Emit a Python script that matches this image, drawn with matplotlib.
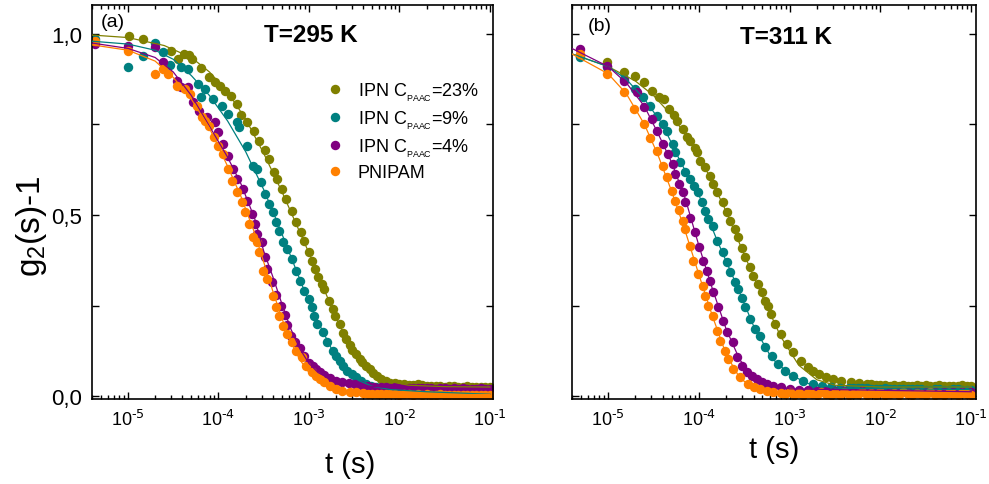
import numpy as np
import matplotlib
matplotlib.use("Agg")
import matplotlib.pyplot as plt
from matplotlib.ticker import LogLocator, MultipleLocator, FuncFormatter, NullFormatter

plt.rcParams['font.family'] = ['Liberation Sans', 'DejaVu Sans']
plt.rcParams['mathtext.default'] = 'regular'

# colours of the four samples
c23 = '#808000'
c9 = '#008080'
c4 = '#800080'
cpn = '#ff8000'
labels = [r'IPN C$_{{}_{PAAC}}$=23%', r'IPN C$_{{}_{PAAC}}$=9%', r'IPN C$_{{}_{PAAC}}$=4%', 'PNIPAM']

# ---------------- panel (a), T=295 K : log10(t) and g2-1 -----------------
lt_a_23 = [-4.99, -4.83, -4.52, -4.45, -4.38, -4.33, -4.29, -4.19, -4.10, -4.04, -3.98, -3.93, -3.86, -3.80,
           -3.75, -3.69, -3.61, -3.55, -3.49, -3.44, -3.39, -3.35, -3.30, -3.25, -3.19, -3.14, -3.09, -3.05,
           -3.00, -2.97, -2.93, -2.90, -2.86, -2.83, -2.78, -2.74, -2.71, -2.66, -2.62, -2.59, -2.55, -2.52,
           -2.48, -2.44, -2.41, -2.37, -2.33, -2.29, -2.25, -2.20, -2.15, -2.10, -2.05, -2.00, -1.95, -1.90,
           -1.85, -1.80, -1.75, -1.70, -1.65, -1.60, -1.55, -1.50, -1.45, -1.40, -1.35, -1.30, -1.25, -1.20,
           -1.15, -1.10, -1.05, -1.00]
g_a_23 = [0.994, 0.986, 0.953, 0.931, 0.945, 0.942, 0.931, 0.905, 0.881, 0.868, 0.855, 0.843, 0.829, 0.807,
          0.776, 0.757, 0.732, 0.704, 0.680, 0.655, 0.620, 0.599, 0.572, 0.545, 0.511, 0.482, 0.453, 0.428,
          0.398, 0.373, 0.350, 0.329, 0.310, 0.296, 0.262, 0.240, 0.221, 0.199, 0.175, 0.157, 0.140, 0.128,
          0.116, 0.103, 0.094, 0.084, 0.075, 0.065, 0.055, 0.048, 0.041, 0.037, 0.035, 0.033, 0.032, 0.031,
          0.030, 0.033, 0.031, 0.029, 0.028, 0.027, 0.028, 0.026, 0.027, 0.028, 0.026, 0.025, 0.027, 0.026,
          0.025, 0.026, 0.025, 0.026]

lt_a_9 = [-5.36, -5.00, -4.83, -4.70, -4.61, -4.54, -4.41, -4.34, -4.23, -4.19, -4.15, -4.06, -3.96, -3.90,
          -3.80, -3.77, -3.69, -3.62, -3.58, -3.53, -3.49, -3.44, -3.40, -3.36, -3.33, -3.29, -3.24, -3.19,
          -3.14, -3.10, -3.05, -3.00, -2.97, -2.94, -2.91, -2.85, -2.80, -2.74, -2.70, -2.66, -2.62, -2.58,
          -2.53, -2.48, -2.42, -2.37, -2.31, -2.26, -2.20, -2.15, -2.10, -2.05, -2.00, -1.95, -1.90, -1.85,
          -1.80, -1.75, -1.70, -1.65, -1.60, -1.55, -1.50, -1.45, -1.40, -1.35, -1.30, -1.25, -1.20, -1.15,
          -1.10, -1.05, -1.00]
g_a_9 = [0.986, 0.909, 0.939, 0.975, 0.950, 0.913, 0.909, 0.903, 0.862, 0.826, 0.848, 0.820, 0.801, 0.779,
         0.757, 0.743, 0.690, 0.635, 0.627, 0.590, 0.558, 0.530, 0.508, 0.480, 0.456, 0.425, 0.406, 0.378,
         0.345, 0.318, 0.290, 0.268, 0.245, 0.222, 0.199, 0.177, 0.149, 0.124, 0.110, 0.097, 0.083, 0.069,
         0.060, 0.052, 0.042, 0.033, 0.029, 0.025, 0.021, 0.017, 0.016, 0.015, 0.013, 0.014, 0.012, 0.013,
         0.011, 0.012, 0.010, 0.011, 0.009, 0.010, 0.008, 0.009, 0.007, 0.008, 0.006, 0.005, 0.006, 0.004,
         0.003, 0.004, 0.002]

lt_a_4 = [-5.36, -5.00, -4.70, -4.61, -4.46, -4.41, -4.34, -4.28, -4.21, -4.13, -4.04, -4.01, -3.95, -3.90,
          -3.84, -3.79, -3.73, -3.68, -3.63, -3.60, -3.57, -3.52, -3.49, -3.46, -3.41, -3.36, -3.31, -3.27,
          -3.24, -3.20, -3.16, -3.10, -3.05, -3.00, -2.96, -2.92, -2.88, -2.83, -2.77, -2.70, -2.63, -2.56,
          -2.49, -2.42, -2.35, -2.28, -2.20, -2.15, -2.10, -2.05, -2.00, -1.95, -1.90, -1.85, -1.80, -1.75,
          -1.70, -1.65, -1.60, -1.55, -1.50, -1.45, -1.40, -1.35, -1.30, -1.25, -1.20, -1.15, -1.10, -1.05,
          -1.00]
g_a_4 = [0.972, 0.967, 0.964, 0.922, 0.870, 0.853, 0.853, 0.812, 0.787, 0.770, 0.757, 0.729, 0.696, 0.663,
         0.627, 0.599, 0.572, 0.539, 0.503, 0.475, 0.448, 0.425, 0.384, 0.350, 0.315, 0.280, 0.249, 0.224,
         0.195, 0.166, 0.150, 0.132, 0.110, 0.092, 0.083, 0.074, 0.066, 0.057, 0.049, 0.043, 0.039, 0.035,
         0.032, 0.030, 0.028, 0.026, 0.025, 0.024, 0.023, 0.024, 0.022, 0.023, 0.022, 0.021, 0.023, 0.022,
         0.021, 0.022, 0.020, 0.021, 0.022, 0.020, 0.021, 0.020, 0.021, 0.020, 0.019, 0.020, 0.021, 0.019,
         0.020]

lt_a_pn = [-5.36, -5.00, -4.70, -4.61, -4.56, -4.46, -4.37, -4.32, -4.24, -4.18, -4.15, -4.10, -4.05, -4.01,
           -3.95, -3.90, -3.85, -3.80, -3.74, -3.71, -3.66, -3.62, -3.58, -3.55, -3.51, -3.46, -3.40, -3.36,
           -3.33, -3.29, -3.24, -3.19, -3.14, -3.08, -3.03, -2.97, -2.92, -2.88, -2.83, -2.77, -2.70, -2.63,
           -2.55, -2.48, -2.40, -2.35, -2.30, -2.25, -2.20, -2.15, -2.10, -2.05, -2.00, -1.95, -1.90, -1.85,
           -1.80, -1.75, -1.70, -1.65, -1.60, -1.55, -1.50, -1.45, -1.40, -1.35, -1.30, -1.25, -1.20, -1.15,
           -1.10, -1.05, -1.00]
g_a_pn = [0.980, 0.953, 0.890, 0.903, 0.890, 0.856, 0.848, 0.834, 0.801, 0.770, 0.760, 0.746, 0.715, 0.690,
          0.669, 0.627, 0.595, 0.563, 0.536, 0.508, 0.475, 0.439, 0.425, 0.398, 0.345, 0.323, 0.276, 0.245,
          0.221, 0.193, 0.171, 0.149, 0.124, 0.108, 0.083, 0.066, 0.055, 0.047, 0.038, 0.028, 0.020, 0.014,
          0.012, 0.010, 0.008, 0.007, 0.006, 0.007, 0.005, 0.006, 0.005, 0.006, 0.004, 0.005, 0.006, 0.004,
          0.005, 0.004, 0.005, 0.003, 0.004, 0.005, 0.003, 0.004, 0.003, 0.004, 0.003, 0.004, 0.002, 0.003,
          0.004, 0.003, 0.003]

# fitted curves, panel (a)
flt_a_23 = [-5.4, -5.0, -4.6, -4.3, -4.1, -3.9, -3.7, -3.5, -3.3, -3.15, -3.0, -2.85, -2.7, -2.55, -2.4,
            -2.25, -2.1, -1.9, -1.5, -1.0]
fg_a_23 = [0.997, 0.99, 0.968, 0.935, 0.895, 0.84, 0.765, 0.67, 0.565, 0.48, 0.395, 0.305, 0.215, 0.14, 0.09,
           0.058, 0.04, 0.03, 0.026, 0.025]
flt_a_9 = [-5.4, -5.0, -4.7, -4.5, -4.3, -4.1, -3.9, -3.7, -3.5, -3.35, -3.2, -3.05, -2.9, -2.75, -2.6,
           -2.45, -2.3, -2.1, -1.7, -1.0]
fg_a_9 = [0.98, 0.972, 0.955, 0.93, 0.885, 0.83, 0.76, 0.675, 0.57, 0.48, 0.385, 0.29, 0.205, 0.13, 0.075,
          0.043, 0.027, 0.018, 0.012, 0.005]
flt_a_4 = [-5.4, -5.0, -4.7, -4.5, -4.3, -4.1, -3.9, -3.75, -3.6, -3.5, -3.4, -3.3, -3.2, -3.1, -3.0, -2.9,
           -2.75, -2.5, -2.0, -1.0]
fg_a_4 = [0.975, 0.96, 0.935, 0.895, 0.83, 0.745, 0.66, 0.585, 0.49, 0.40, 0.33, 0.255, 0.185, 0.13, 0.09,
          0.065, 0.045, 0.03, 0.022, 0.02]
flt_a_pn = [-5.4, -5.0, -4.7, -4.5, -4.3, -4.1, -3.9, -3.75, -3.6, -3.5, -3.4, -3.3, -3.2, -3.1, -3.0, -2.9,
            -2.75, -2.5, -2.0, -1.0]
fg_a_pn = [0.97, 0.955, 0.925, 0.88, 0.82, 0.74, 0.635, 0.55, 0.45, 0.37, 0.29, 0.215, 0.15, 0.1, 0.065,
           0.042, 0.022, 0.01, 0.005, 0.004]

# ---------------- panel (b), T=311 K -----------------
lt_b_23 = [-5.31, -5.01, -4.82, -4.70, -4.60, -4.52, -4.44, -4.38, -4.33, -4.27, -4.24, -4.18, -4.13, -4.10,
           -4.04, -4.02, -3.99, -3.93, -3.88, -3.84, -3.80, -3.74, -3.69, -3.66, -3.60, -3.57, -3.53, -3.49,
           -3.44, -3.40, -3.35, -3.30, -3.27, -3.24, -3.21, -3.16, -3.10, -3.03, -2.96, -2.88, -2.80, -2.74,
           -2.68, -2.60, -2.52, -2.43, -2.33, -2.24, -2.15, -2.10, -2.05, -2.00, -1.95, -1.90, -1.85, -1.80,
           -1.75, -1.70, -1.65, -1.60, -1.55, -1.50, -1.45, -1.40, -1.35, -1.30, -1.25, -1.20, -1.15, -1.10,
           -1.05, -1.00]
g_b_23 = [0.940, 0.922, 0.894, 0.884, 0.868, 0.843, 0.826, 0.820, 0.793, 0.776, 0.760, 0.738, 0.715, 0.704,
          0.685, 0.674, 0.649, 0.632, 0.608, 0.585, 0.563, 0.536, 0.508, 0.483, 0.461, 0.439, 0.410, 0.384,
          0.356, 0.332, 0.309, 0.287, 0.262, 0.249, 0.227, 0.199, 0.171, 0.144, 0.122, 0.097, 0.080, 0.070,
          0.061, 0.053, 0.047, 0.042, 0.039, 0.036, 0.033, 0.032, 0.031, 0.030, 0.031, 0.029, 0.030, 0.029,
          0.030, 0.028, 0.029, 0.030, 0.029, 0.031, 0.029, 0.028, 0.030, 0.029, 0.028, 0.029, 0.028, 0.030,
          0.029, 0.028]

lt_b_9 = [-5.31, -5.01, -4.82, -4.70, -4.62, -4.54, -4.46, -4.40, -4.35, -4.29, -4.26, -4.21, -4.15, -4.10,
          -4.05, -4.01, -3.97, -3.93, -3.90, -3.85, -3.80, -3.74, -3.69, -3.66, -3.60, -3.57, -3.53, -3.49,
          -3.44, -3.38, -3.33, -3.27, -3.19, -3.13, -3.05, -2.96, -2.85, -2.74, -2.64, -2.55, -2.45, -2.35,
          -2.30, -2.25, -2.20, -2.15, -2.10, -2.05, -2.00, -1.95, -1.90, -1.85, -1.80, -1.75, -1.70, -1.65,
          -1.60, -1.55, -1.50, -1.45, -1.40, -1.35, -1.30, -1.25, -1.20, -1.15, -1.10, -1.05, -1.00]
g_b_9 = [0.936, 0.909, 0.876, 0.848, 0.826, 0.801, 0.773, 0.751, 0.732, 0.696, 0.674, 0.646, 0.619, 0.600,
         0.580, 0.563, 0.537, 0.511, 0.489, 0.470, 0.428, 0.398, 0.370, 0.343, 0.315, 0.295, 0.270, 0.246,
         0.213, 0.185, 0.166, 0.135, 0.110, 0.088, 0.069, 0.055, 0.041, 0.033, 0.028, 0.025, 0.023, 0.022,
         0.021, 0.021, 0.022, 0.022, 0.020, 0.020, 0.020, 0.021, 0.019, 0.019, 0.020, 0.020, 0.019, 0.019,
         0.020, 0.020, 0.018, 0.018, 0.019, 0.019, 0.018, 0.018, 0.019, 0.019, 0.018, 0.018, 0.017]

lt_b_4 = [-5.31, -5.01, -4.82, -4.68, -4.60, -4.52, -4.46, -4.40, -4.34, -4.29, -4.26, -4.22, -4.17, -4.15,
          -4.10, -4.04, -4.00, -3.95, -3.91, -3.88, -3.84, -3.79, -3.74, -3.69, -3.63, -3.58, -3.52, -3.47,
          -3.41, -3.36, -3.30, -3.25, -3.18, -3.10, -3.00, -2.90, -2.80, -2.70, -2.60, -2.50, -2.40, -2.30,
          -2.20, -2.10, -2.00, -1.90, -1.80, -1.70, -1.60, -1.50, -1.40, -1.30, -1.20, -1.10, -1.00]
g_b_4 = [0.959, 0.912, 0.870, 0.840, 0.798, 0.765, 0.732, 0.696, 0.669, 0.641, 0.613, 0.586, 0.564, 0.536,
         0.492, 0.453, 0.412, 0.373, 0.345, 0.318, 0.287, 0.246, 0.207, 0.177, 0.149, 0.108, 0.083, 0.066,
         0.055, 0.047, 0.040, 0.033, 0.028, 0.025, 0.020, 0.018, 0.016, 0.015, 0.014, 0.013, 0.013, 0.012,
         0.013, 0.012, 0.012, 0.011, 0.012, 0.012, 0.011, 0.012, 0.011, 0.012, 0.011, 0.012, 0.011]

lt_b_pn = [-5.31, -5.01, -4.82, -4.71, -4.60, -4.54, -4.46, -4.40, -4.35, -4.30, -4.26, -4.22, -4.17, -4.15,
           -4.10, -4.06, -4.01, -3.96, -3.93, -3.90, -3.84, -3.80, -3.77, -3.71, -3.68, -3.62, -3.55, -3.46,
           -3.39, -3.33, -3.25, -3.18, -3.10, -3.05, -3.00, -2.95, -2.90, -2.85, -2.80, -2.75, -2.70, -2.65,
           -2.60, -2.55, -2.50, -2.45, -2.40, -2.35, -2.30, -2.25, -2.20, -2.15, -2.10, -2.05, -2.00, -1.95,
           -1.90, -1.85, -1.80, -1.75, -1.70, -1.65, -1.60, -1.55, -1.50, -1.45, -1.40, -1.35, -1.30, -1.25,
           -1.20, -1.15, -1.10, -1.05, -1.00]
g_b_pn = [0.945, 0.890, 0.840, 0.793, 0.751, 0.713, 0.677, 0.635, 0.605, 0.566, 0.539, 0.514, 0.483, 0.461,
          0.414, 0.373, 0.337, 0.304, 0.276, 0.249, 0.221, 0.180, 0.152, 0.124, 0.102, 0.075, 0.052, 0.033,
          0.024, 0.019, 0.014, 0.011, 0.009, 0.006, 0.010, 0.004, 0.008, 0.003, 0.009, 0.005, 0.002, 0.010,
          0.006, 0.003, 0.009, 0.004, 0.011, 0.002, 0.007, 0.005, 0.010, 0.003, 0.008, 0.004, 0.011, 0.002,
          0.006, 0.009, 0.003, 0.010, 0.005, 0.002, 0.008, 0.006, 0.003, 0.010, 0.004, 0.007, 0.002, 0.009,
          0.005, 0.003, 0.008, 0.006, 0.004]

# fitted curves, panel (b)
flt_b_23 = [-5.4, -5.0, -4.7, -4.5, -4.3, -4.1, -3.9, -3.7, -3.5, -3.3, -3.1, -2.9, -2.7, -2.5, -2.0, -1.0]
fg_b_23 = [0.945, 0.91, 0.87, 0.83, 0.775, 0.705, 0.615, 0.51, 0.39, 0.275, 0.165, 0.085, 0.045, 0.03,
           0.025, 0.025]
flt_b_9 = [-5.4, -5.0, -4.8, -4.6, -4.4, -4.2, -4.0, -3.8, -3.6, -3.4, -3.2, -3.0, -2.8, -2.5, -1.0]
fg_b_9 = [0.945, 0.91, 0.875, 0.82, 0.75, 0.645, 0.555, 0.43, 0.315, 0.195, 0.105, 0.06, 0.035, 0.022, 0.018]
flt_b_4 = [-5.4, -5.0, -4.8, -4.6, -4.45, -4.3, -4.15, -4.0, -3.85, -3.7, -3.55, -3.4, -3.2, -3.0, -1.0]
fg_b_4 = [0.96, 0.91, 0.865, 0.8, 0.725, 0.645, 0.545, 0.415, 0.295, 0.185, 0.1, 0.055, 0.03, 0.02, 0.012]
flt_b_pn = [-5.4, -5.0, -4.8, -4.6, -4.45, -4.3, -4.15, -4.0, -3.85, -3.7, -3.55, -3.4, -3.2, -1.0]
fg_b_pn = [0.945, 0.89, 0.835, 0.75, 0.665, 0.565, 0.455, 0.335, 0.22, 0.115, 0.05, 0.022, 0.01, 0.006]

colors = [c23, c9, c4, cpn]
data_a = [(lt_a_23, g_a_23), (lt_a_9, g_a_9), (lt_a_4, g_a_4), (lt_a_pn, g_a_pn)]
fits_a = [(flt_a_23, fg_a_23), (flt_a_9, fg_a_9), (flt_a_4, fg_a_4), (flt_a_pn, fg_a_pn)]
data_b = [(lt_b_23, g_b_23), (lt_b_9, g_b_9), (lt_b_4, g_b_4), (lt_b_pn, g_b_pn)]
fits_b = [(flt_b_23, fg_b_23), (flt_b_9, fg_b_9), (flt_b_4, fg_b_4), (flt_b_pn, fg_b_pn)]


def pow_label(v, pos):
    e = int(round(np.log10(v)))
    return r'10$^{\text{%d}}$' % e


fig = plt.figure(figsize=(9.89, 4.85), dpi=100)
axA = fig.add_axes([0.0930, 0.1753, 0.4055, 0.8124])
axB = fig.add_axes([0.5784, 0.1753, 0.4085, 0.8124])


def draw_panel(ax, data, fits, xmax):
    for (lt, g), (flt, fg), col, lab in zip(data, fits, colors, labels):
        ax.plot(10.0**np.array(lt), g, 'o', ms=6.8, mew=0, color=col, label=lab, zorder=2)
        ax.plot(10.0**np.array(flt), fg, '-', lw=0.9, color=col, zorder=3)
    ax.set_xscale('log')
    ax.set_xlim(4.0e-6, xmax)
    ax.set_ylim(-0.008, 1.08)
    ax.xaxis.set_major_locator(LogLocator(base=10, numticks=10))
    ax.xaxis.set_minor_locator(LogLocator(base=10, subs=np.arange(2, 10), numticks=20))
    ax.xaxis.set_major_formatter(FuncFormatter(pow_label))
    ax.xaxis.set_minor_formatter(NullFormatter())
    ax.yaxis.set_major_locator(MultipleLocator(0.5))
    ax.yaxis.set_minor_locator(MultipleLocator(0.25))
    ax.tick_params(which='both', direction='in', top=True, right=True, width=1.0, pad=7)
    ax.tick_params(axis='x', labelsize=13)
    ax.tick_params(axis='y', labelsize=16)
    ax.tick_params(which='major', length=5)
    ax.tick_params(which='minor', length=3)
    ax.tick_params(axis='y', which='minor', length=5)
    for s in ax.spines.values():
        s.set_linewidth(1.2)
    ax.set_xlabel('t (s)', fontsize=21)
    ax.xaxis.label.set_va('center')


draw_panel(axA, data_a, fits_a, 0.108)
draw_panel(axB, data_b, fits_b, 0.113)

axA.yaxis.set_major_formatter(FuncFormatter(lambda v, p: ('%.1f' % v).replace('.', ',')))
axB.yaxis.set_major_formatter(NullFormatter())

axA.set_ylabel('g$_2$(s)-1', fontsize=24, va='center')
axA.yaxis.set_label_coords(-0.152, 0.44)
axA.xaxis.set_label_coords(0.643, -0.165)
axB.xaxis.set_label_coords(0.5, -0.127)

axA.text(0.052, 0.959, '(a)', transform=axA.transAxes, fontsize=14, ha='center', va='center')
axB.text(0.069, 0.947, '(b)', transform=axB.transAxes, fontsize=14, ha='center', va='center')
axA.text(0.546, 0.926, 'T=295 K', transform=axA.transAxes, fontsize=17.5, fontweight='bold',
         ha='center', va='center')
axB.text(0.53, 0.921, 'T=311 K', transform=axB.transAxes, fontsize=17.5, fontweight='bold',
         ha='center', va='center')

axA.legend(loc='upper left', bbox_to_anchor=(0.555, 0.84), frameon=False, fontsize=13,
           handlelength=0.9, handletextpad=0.8, labelspacing=0.32, numpoints=1, borderpad=0.2)

fig.savefig('out.png', dpi=100)
